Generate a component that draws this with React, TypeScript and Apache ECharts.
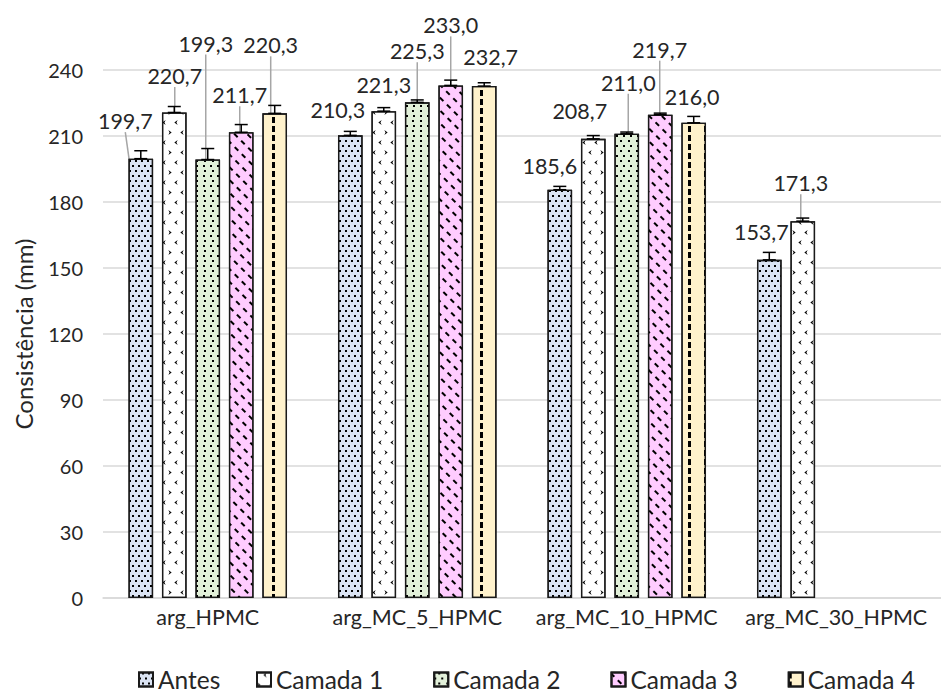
import React, { useEffect, useRef } from "react";
import * as echarts from "echarts";

const categories = ["arg_HPMC", "arg_MC_5_HPMC", "arg_MC_10_HPMC", "arg_MC_30_HPMC"];
const seriesNames = ["Antes", "Camada 1", "Camada 2", "Camada 3", "Camada 4"];

const antes = [199.7, 210.3, 185.6, 153.7];
const camada1 = [220.7, 221.3, 208.7, 171.3];
const camada2 = [199.3, 225.3, 211.0, null];
const camada3 = [211.7, 233.0, 219.7, null];
const camada4 = [220.3, 232.7, 216.0, null];

const antesErr = [3.6, 1.8, 1.5, 3.4];
const camada1Err = [2.7, 1.6, 1.5, 1.4];
const camada2Err = [5.0, 1.1, 0.8, null];
const camada3Err = [3.5, 2.4, 0.7, null];
const camada4Err = [3.6, 1.5, 2.9, null];

const yTicks = { min: 0, max: 240, interval: 30 };

// label placement (dx, dy from bar top centre) and leader-line flags
const labelOffsets = [
  [[-15.5, -37.6], [-12.5, -25.8], [-10, -24], [-8, -27.4]],
  [[0.5, -36.5], [0, -26.6], [-13.5, -27.4], [-2, -38]],
  [[-2, -116], [0, -51], [1.5, -51], [0, 0]],
  [[-1.5, -37], [0, -60], [-0.5, -65], [0, 0]],
  [[-4, -68], [6.5, -28.6], [-1.5, -26], [0, 0]],
];
const leaders = [
  [true, false, false, false],
  [true, false, false, true],
  [true, true, true, false],
  [true, true, true, false],
  [true, false, false, false],
];

const values = [antes, camada1, camada2, camada3, camada4];
const errors = [antesErr, camada1Err, camada2Err, camada3Err, camada4Err];

const fills = ["#dae3f3", "#ffffff", "#e2f0d9", "#ffccff", "#fff2cc"];
const decals: any[] = [
  { symbol: "rect", symbolSize: 1, color: "#000", dashArrayX: [[2, 4], [0, 3, 2, 1]], dashArrayY: [2, 2.5] },
  {
    symbol: ["path://M0,0L4,3L0,6L1.5,3Z", "path://M4,0L0,3L4,6L2.5,3Z"],
    symbolSize: 1,
    color: "#000",
    dashArrayX: [[4, 8], [0, 6, 4, 2]],
    dashArrayY: [5, 5],
  },
  { symbol: "rect", symbolSize: 1, color: "#000", dashArrayX: [[2, 5], [0, 3.5, 2, 1.5]], dashArrayY: [2, 3] },
  { symbol: "rect", symbolSize: 1, color: "#000", dashArrayX: [5, 5], dashArrayY: [1.6, 6.5], rotation: Math.PI / 4 },
  { symbol: "rect", symbolSize: 1, color: "#000", dashArrayX: [2.5, 12.5], dashArrayY: [6, 3] },
];

const FONT = "Lato";
const TEXT = "#262626";

export default function App() {
  const ref = useRef<HTMLDivElement>(null);
  useEffect(() => {
    if (!ref.current) return;
    const chart = echarts.init(ref.current, null, { renderer: "svg" });
    const BW = 0.1175;
    const GAP = 0.36;

    const barSeries = values.map((vals, s) => ({
      name: seriesNames[s],
      type: "bar",
      barWidth: BW * 100 + "%",
      barGap: GAP * 100 + "%",
      data: vals.map((v, i) => ({
        value: v,
        labelLine: { show: leaders[s][i] },
      })),
      itemStyle: {
        color: fills[s],
        borderColor: "#1a1a1a",
        borderWidth: 1.3,
        decal: decals[s],
      },
      label: {
        show: true,
        position: "top",
        fontFamily: FONT,
        fontSize: 21.5,
        color: TEXT,
        formatter: (p: any) => (p.value == null ? "" : Number(p.value).toFixed(1).replace(".", ",")),
      },
      labelLine: { show: false, lineStyle: { color: "#a6a6a6", width: 1.5 } },
      labelLayout: (params: any) => {
        const off = labelOffsets[s][params.dataIndex] || [0, 0];
        return {
          x: params.rect.x + params.rect.width / 2 + off[0],
          y: params.rect.y + off[1],
          align: "center",
          verticalAlign: "middle",
        };
      },
      z: 2,
    }));

    const errData: any[] = [];
    values.forEach((vals, s) => {
      vals.forEach((v, i) => {
        const e = errors[s][i];
        if (v != null && e != null) errData.push([i, s, v, e]);
      });
    });

    const errSeries = {
      type: "custom",
      name: "err",
      z: 5,
      silent: true,
      data: errData,
      encode: { x: 0, y: 2 },
      renderItem: (params: any, api: any) => {
        const cat = api.value(0);
        const s = api.value(1);
        const v = api.value(2);
        const e = api.value(3);
        const band = api.size([1, 0])[0];
        const bw = band * BW;
        const offset = (s - 2) * (bw * (1 + GAP));
        const p0 = api.coord([cat, v]);
        const p1 = api.coord([cat, v + e]);
        const x = p0[0] + offset;
        const style = { stroke: "#000", lineWidth: 1.5 };
        return {
          type: "group",
          children: [
            { type: "line", shape: { x1: x, y1: p0[1], x2: x, y2: p1[1] }, style },
            { type: "line", shape: { x1: x - 6.5, y1: p1[1], x2: x + 6.5, y2: p1[1] }, style },
            { type: "line", shape: { x1: x - 6.5, y1: p0[1], x2: x + 6.5, y2: p0[1] }, style },
          ],
        };
      },
    };

    const legendCommon = {
      top: 667,
      padding: 0,
      icon: "rect",
      itemWidth: 14,
      itemHeight: 14,
      textStyle: { fontFamily: FONT, fontSize: 24.5, color: TEXT },
    };

    chart.setOption({
      animation: false,
      backgroundColor: "#ffffff",
      textStyle: { fontFamily: FONT },
      grid: { left: 103, top: 70, width: 851, height: 528, containLabel: false },
      legend: [
        { ...legendCommon, data: [seriesNames[0]], left: 138 },
        { ...legendCommon, data: seriesNames.slice(1), left: 256, itemGap: 50 },
      ],
      xAxis: {
        type: "category",
        data: categories,
        axisLine: { lineStyle: { color: "#d9d9d9", width: 1.5 } },
        axisTick: { show: false },
        axisLabel: { fontFamily: FONT, fontSize: 21.5, color: TEXT, margin: 8, interval: 0 },
      },
      yAxis: {
        type: "value",
        min: yTicks.min,
        max: yTicks.max,
        interval: yTicks.interval,
        name: "Consistência (mm)",
        nameLocation: "middle",
        nameGap: 68,
        nameTextStyle: { fontFamily: FONT, fontSize: 24, color: TEXT },
        axisLine: { show: false },
        axisTick: { show: false },
        axisLabel: { fontFamily: FONT, fontSize: 20, color: TEXT, margin: 20 },
        splitLine: { lineStyle: { color: "#d9d9d9", width: 1.5 } },
      },
      series: [...barSeries, errSeries],
    });
    return () => chart.dispose();
  }, []);
  return (
    <div
      ref={ref}
      style={{ position: "fixed", left: 0, top: 0, width: 941, height: 693 }}
    />
  );
}
